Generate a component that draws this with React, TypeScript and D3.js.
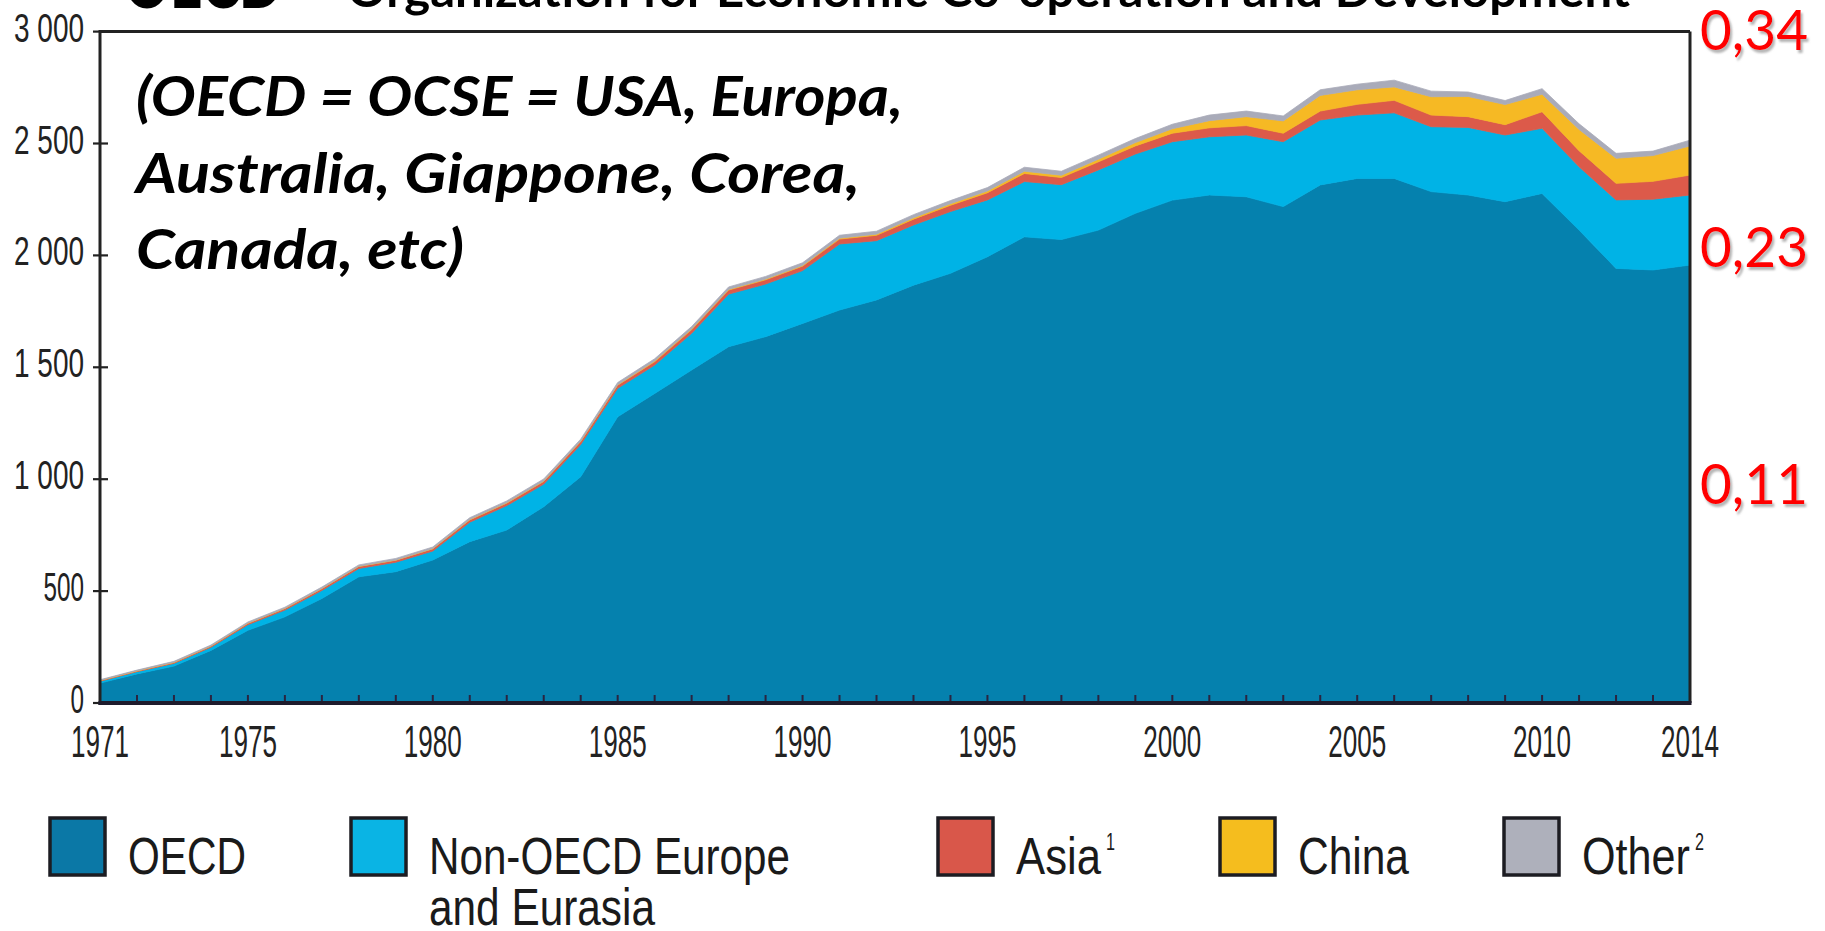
import React from 'react';
import * as d3 from 'd3';

// ---------- DATA ----------
const years = [
  1971, 1972, 1973, 1974, 1975, 1976, 1977, 1978, 1979, 1980,
  1981, 1982, 1983, 1984, 1985, 1986, 1987, 1988, 1989, 1990,
  1991, 1992, 1993, 1994, 1995, 1996, 1997, 1998, 1999, 2000,
  2001, 2002, 2003, 2004, 2005, 2006, 2007, 2008, 2009, 2010,
  2011, 2012, 2013, 2014,
];
const oecd = [
  89, 130, 165, 235, 325, 385, 467, 564, 587, 639,
  721, 773, 877, 1011, 1279, 1383, 1488, 1592, 1637, 1696,
  1756, 1801, 1867, 1920, 1994, 2083, 2071, 2113, 2188, 2247,
  2270, 2262, 2218, 2315, 2344, 2344, 2285, 2270, 2240, 2277,
  2113, 1942, 1935, 1957,
];
const nonOecd = [
  8, 10, 12, 14, 25, 30, 36, 37, 42, 40,
  87, 109, 101, 144, 127, 127, 164, 235, 235, 236,
  295, 265, 269, 276, 254, 247, 245, 269, 265, 261,
  260, 276, 290, 290, 283, 293, 290, 302, 298, 291,
  283, 306, 316, 313,
];
const asia = [
  3, 3, 4, 5, 6, 7, 8, 9, 9, 10,
  10, 11, 12, 13, 14, 15, 16, 18, 19, 20,
  22, 24, 26, 28, 32, 36, 32, 36, 36, 38,
  40, 42, 38, 40, 48, 56, 52, 48, 46, 74,
  72, 74, 80, 89,
];
const china = [
  1, 1, 1, 1, 1, 1, 1, 1, 1, 1,
  2, 2, 2, 2, 2, 3, 3, 3, 3, 3,
  4, 5, 6, 7, 8, 10, 10, 12, 15, 20,
  32, 40, 55, 70, 65, 60, 82, 90, 90, 78,
  95, 112, 115, 130,
];
const other = [
  3, 3, 4, 4, 5, 5, 6, 6, 7, 7,
  8, 8, 9, 9, 10, 10, 11, 11, 12, 12,
  13, 13, 14, 14, 15, 18, 18, 18, 18, 20,
  25, 25, 22, 25, 25, 30, 25, 20, 18, 25,
  25, 22, 20, 26,
];
const seriesKeys = ['oecd', 'nonOecd', 'asia', 'china', 'other'];
const seriesLabels = ['OECD', 'Non-OECD Europe|and Eurasia', 'Asia', 'China', 'Other'];
const seriesSup = ['', '', '1', '', '2'];
const yTickValues = [0, 500, 1000, 1500, 2000, 2500, 3000];
const yTickLabels = ['0', '500', '1 000', '1 500', '2 000', '2 500', '3 000'];
const xTickLabels = [1971, 1975, 1980, 1985, 1990, 1995, 2000, 2005, 2010, 2014];
const rightValues = [0.34, 0.23, 0.11];
const rightLabels = ['0,34', '0,23', '0,11'];
const noteLines = ['(OECD = OCSE = USA, Europa,', 'Australia, Giappone, Corea,', 'Canada, etc)'];
const titleAbbr = 'OECD';
const titleFull = 'Organization for Economic Co-operation and Development';

// ---------- STYLE ----------
const colors: Record<string, string> = {
  oecd: '#0581ae',
  nonOecd: '#00b3e6',
  asia: '#dc5a4a',
  china: '#f6b924',
  other: '#a9abb9',
};
const legendColors: Record<string, string> = {
  oecd: '#0b78a6',
  nonOecd: '#0ab4e4',
  asia: '#d9574a',
  china: '#f5bd1e',
  other: '#aeb0bb',
};

const AXIS_FONT = '"Liberation Sans", Arial, sans-serif';
const CAL_FONT = 'Lato, "Open Sans", sans-serif';

export default function App() {
  const W = 1825;
  const H = 931;
  const left = 100;
  const right = 1690;
  const top = 31.6;
  const bottom = 703;

  const x = d3.scaleLinear().domain([1971, 2014]).range([left, right]);
  const y = d3.scaleLinear().domain([0, 3000]).range([bottom, top]);
  const yR = d3.scaleLinear().domain([0, 0.34]).range([bottom, top]);

  const table = years.map((yr, i) => ({
    year: yr,
    oecd: oecd[i],
    nonOecd: nonOecd[i],
    asia: asia[i],
    china: china[i],
    other: other[i],
  }));
  const stacked = d3.stack<any>().keys(seriesKeys)(table);
  const area = d3
    .area<any>()
    .x((d) => x(d.data.year))
    .y0((d) => y(d[0]))
    .y1((d) => y(d[1]))
    .curve(d3.curveLinear);

  const ylabelWidth = (s: string) =>
    s.split('').reduce((acc, c) => acc + (c === ' ' ? 16 : 13.5), 0);

  // legend layout
  const legendX = [50, 351, 938, 1220, 1504];
  const legendTextW = [118, 361, 85, 111, 108];
  const sq = { y: 818, w: 55, h: 57 };
  const noteWidths = [767, 724, 328];

  return (
    <svg
      width={W}
      height={H}
      viewBox={`0 0 ${W} ${H}`}
      style={{ position: 'absolute', left: 0, top: 0, display: 'block', background: '#fff' }}
    >
      <defs>
        <filter id="redShadow" x="-20%" y="-20%" width="140%" height="160%">
          <feDropShadow dx="2" dy="3" stdDeviation="1.2" floodColor="#777" floodOpacity="0.55" />
        </filter>
      </defs>
      <rect x={0} y={0} width={W} height={H} fill="#fff" />

      {/* Title (cut off at top in the source picture) */}
      <text
        x={124}
        y={8}
        fontFamily={CAL_FONT}
        fontWeight={900}
        fontSize={72}
        textLength={158}
        lengthAdjust="spacingAndGlyphs"
        fill="#000"
      >
        {titleAbbr}
      </text>
      <text x={298} y={-10} fontFamily={CAL_FONT} fontWeight={700} fontSize={46} fill="#000">
        –
      </text>
      <text
        x={347}
        y={7}
        fontFamily={CAL_FONT}
        fontWeight={700}
        fontSize={47}
        textLength={1283}
        lengthAdjust="spacingAndGlyphs"
        fill="#000"
      >
        {titleFull}
      </text>

      {/* Stacked areas */}
      {stacked.map((s: any) => (
        <path key={s.key} d={area(s) || ''} fill={colors[s.key]} stroke={colors[s.key]} strokeWidth={0.8} />
      ))}

      {/* x minor ticks */}
      {years.map((yr) => (
        <line
          key={'xt' + yr}
          x1={x(yr)}
          x2={x(yr)}
          y1={bottom}
          y2={bottom - 8}
          stroke="#2a2440"
          strokeWidth={2}
        />
      ))}

      {/* y ticks */}
      {yTickValues.map((v) => (
        <line key={'yt' + v} x1={left - 7} x2={left + 8} y1={y(v)} y2={y(v)} stroke="#222" strokeWidth={2.2} />
      ))}

      {/* frame */}
      <line x1={left} x2={right} y1={top} y2={top} stroke="#222" strokeWidth={3} />
      <line x1={right} x2={right} y1={top} y2={bottom} stroke="#222" strokeWidth={3} />
      <line x1={left} x2={left} y1={top - 1.5} y2={bottom + 2} stroke="#222" strokeWidth={3} />
      <line x1={left - 1.5} x2={right + 1.5} y1={bottom} y2={bottom} stroke="#1e1b2c" strokeWidth={4} />

      {/* y labels */}
      {yTickValues.map((v, i) => (
        <text
          key={'yl' + v}
          x={84}
          y={y(v) + 10}
          textAnchor="end"
          fontFamily={AXIS_FONT}
          fontSize={40}
          textLength={ylabelWidth(yTickLabels[i])}
          lengthAdjust="spacingAndGlyphs"
          fill="#222"
        >
          {yTickLabels[i]}
        </text>
      ))}

      {/* x labels */}
      {xTickLabels.map((yr) => (
        <text
          key={'xl' + yr}
          x={x(yr)}
          y={757}
          textAnchor="middle"
          fontFamily={AXIS_FONT}
          fontSize={45}
          textLength={58}
          lengthAdjust="spacingAndGlyphs"
          fill="#222"
        >
          {yr}
        </text>
      ))}

      {/* right red labels */}
      {rightValues.map((v, i) => (
        <text
          key={'rl' + i}
          x={1700}
          y={yR(v) + 18}
          fontFamily={CAL_FONT}
          fontSize={56}
          textLength={108}
          lengthAdjust="spacingAndGlyphs"
          fill="#ff0000"
          filter="url(#redShadow)"
        >
          {rightLabels[i]}
        </text>
      ))}

      {/* annotation */}
      {noteLines.map((t, i) => (
        <text
          key={'note' + i}
          x={136}
          y={116 + i * 76.6}
          fontFamily={CAL_FONT}
          fontWeight={700}
          fontStyle="italic"
          fontSize={55}
          textLength={noteWidths[i]}
          lengthAdjust="spacingAndGlyphs"
          fill="#000"
        >
          {t}
        </text>
      ))}

      {/* legend */}
      {seriesKeys.map((k, i) => {
        const lx = legendX[i];
        const lines = seriesLabels[i].split('|');
        const tx = lx + sq.w + 23;
        return (
          <g key={'lg' + k}>
            <rect
              x={lx}
              y={sq.y}
              width={sq.w}
              height={sq.h}
              fill={legendColors[k]}
              stroke="#1c1c22"
              strokeWidth={3.5}
            />
            {lines.map((ln, j) => (
              <text
                key={j}
                x={tx}
                y={874 + j * 51}
                fontFamily={AXIS_FONT}
                fontSize={52}
                textLength={j === 0 ? legendTextW[i] : 226}
                lengthAdjust="spacingAndGlyphs"
                fill="#1a1a1a"
              >
                {ln}
              </text>
            ))}
            {seriesSup[i] && (
              <text
                x={tx + legendTextW[i] + 5}
                y={850}
                fontFamily={AXIS_FONT}
                fontSize={24}
                textLength={9}
                lengthAdjust="spacingAndGlyphs"
                fill="#1a1a1a"
              >
                {seriesSup[i]}
              </text>
            )}
          </g>
        );
      })}
    </svg>
  );
}
